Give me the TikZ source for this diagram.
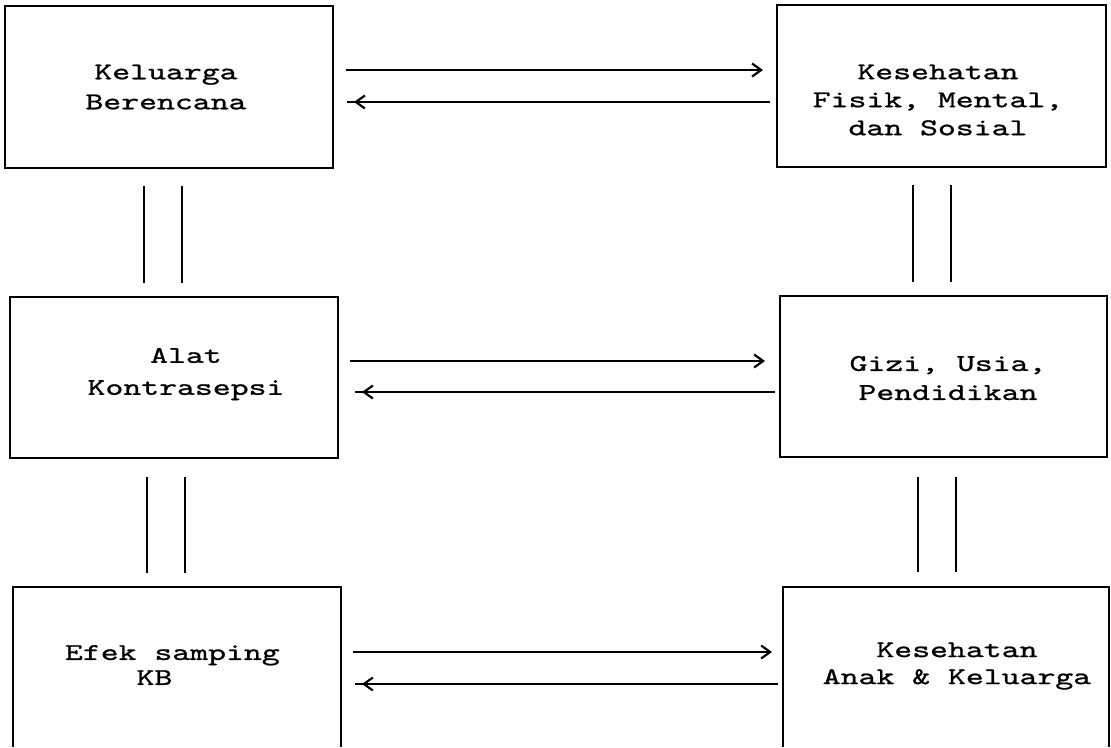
\documentclass[tikz,border=0pt]{standalone}
\usepackage{fontspec}
\newfontfamily\twfont{lmmono10-regular}[Extension=.otf,FakeStretch=1.42,FakeBold=1.0]
\usetikzlibrary{arrows.meta}
\begin{document}
\begin{tikzpicture}[x=1pt,y=-1pt,
  box/.style={draw, line width=2.2pt, rectangle, inner sep=0pt, outer sep=0pt},
  openbox/.style={rectangle, inner sep=0pt, outer sep=0pt},
  boxline/.style={line width=2.2pt},
  lbl/.style={font=\twfont\fontsize{24}{29}\selectfont, inner sep=0pt, outer sep=0pt, align=center},
  link/.style={line width=2.2pt},
  fwd/.style={line width=2.2pt, -{Straight Barb[length=9pt,width=13pt]}},
  back/.style={line width=2.2pt, -{Straight Barb[length=9pt,width=13pt,sep=7pt] Bar[width=0pt,line width=0pt]}}
]
\useasboundingbox (0,0) rectangle (1111,747);
% boxes
\node[box, minimum width=328pt, minimum height=162pt] (kb) at (169,87) {};
\node[box, minimum width=329pt, minimum height=162pt] (kf) at (941.5,86) {};
\node[box, minimum width=328pt, minimum height=161pt] (ak) at (174,377.5) {};
\node[box, minimum width=327pt, minimum height=161pt] (gu) at (943.5,376.5) {};
\node[openbox, minimum width=328pt, minimum height=160pt] (ef) at (177,667) {};
\node[openbox, minimum width=326pt, minimum height=160pt] (ka) at (946,667) {};
\draw[boxline] (ef.south west) -- (ef.north west) -- (ef.north east) -- (ef.south east);
\draw[boxline] (ka.south west) -- (ka.north west) -- (ka.north east) -- (ka.south east);
% labels
\node[lbl] (kbt) at (166,87) {Keluarga\\[1pt]Berencana};
\node[lbl] (kft) at (938,100) {Kesehatan\\[-1pt]Fisik, Mental,\\[-1pt]dan Sosial};
\node[lbl] (akt) at (186,374) {Alat\\[3pt]Kontrasepsi};
\node[lbl] (gut) at (948,378) {Gizi, Usia,\\Pendidikan};
\node[lbl, align=left, anchor=west] (eft) at (65,665) {Efek samping\\[-4pt]\phantom{XXXX}KB};
\node[lbl] (kat) at (957,666) {Kesehatan\\[-2pt]Anak \& Keluarga};
% vertical double links
\draw[link, shorten <=18pt, shorten >=14pt] ([xshift=139pt]kb.south west) -- ([xshift=134pt]ak.north west);
\draw[link, shorten <=18pt, shorten >=14pt] ([xshift=177pt]kb.south west) -- ([xshift=172pt]ak.north west);
\draw[link, shorten <=19pt, shorten >=14pt] ([xshift=137pt]ak.south west) -- ([xshift=134pt]ef.north west);
\draw[link, shorten <=19pt, shorten >=14pt] ([xshift=175pt]ak.south west) -- ([xshift=172pt]ef.north west);
\draw[link, shorten <=18pt, shorten >=14pt] ([xshift=136pt]kf.south west) -- ([xshift=133pt]gu.north west);
\draw[link, shorten <=18pt, shorten >=14pt] ([xshift=174pt]kf.south west) -- ([xshift=171pt]gu.north west);
\draw[link, shorten <=20pt, shorten >=15pt] ([xshift=138pt]gu.south west) -- ([xshift=135pt]ka.north west);
\draw[link, shorten <=20pt, shorten >=15pt] ([xshift=176pt]gu.south west) -- ([xshift=173pt]ka.north west);
% horizontal arrows
\draw[fwd, shorten <=13pt, shorten >=14pt] (kb.east |- 0,70) -- (kf.west |- 0,70);
\draw[back, shorten <=7pt, shorten >=14pt] (kf.west |- 0,102) -- (kb.east |- 0,102);
\draw[fwd, shorten <=12pt, shorten >=15pt] (ak.east |- 0,361) -- (gu.west |- 0,361);
\draw[back, shorten <=5pt, shorten >=17pt] (gu.west |- 0,392) -- (ak.east |- 0,392);
\draw[fwd, shorten <=12pt, shorten >=11pt] (ef.east |- 0,652) -- (ka.west |- 0,652);
\draw[back, shorten <=5pt, shorten >=14pt] (ka.west |- 0,684) -- (ef.east |- 0,684);
\end{tikzpicture}
\end{document}
